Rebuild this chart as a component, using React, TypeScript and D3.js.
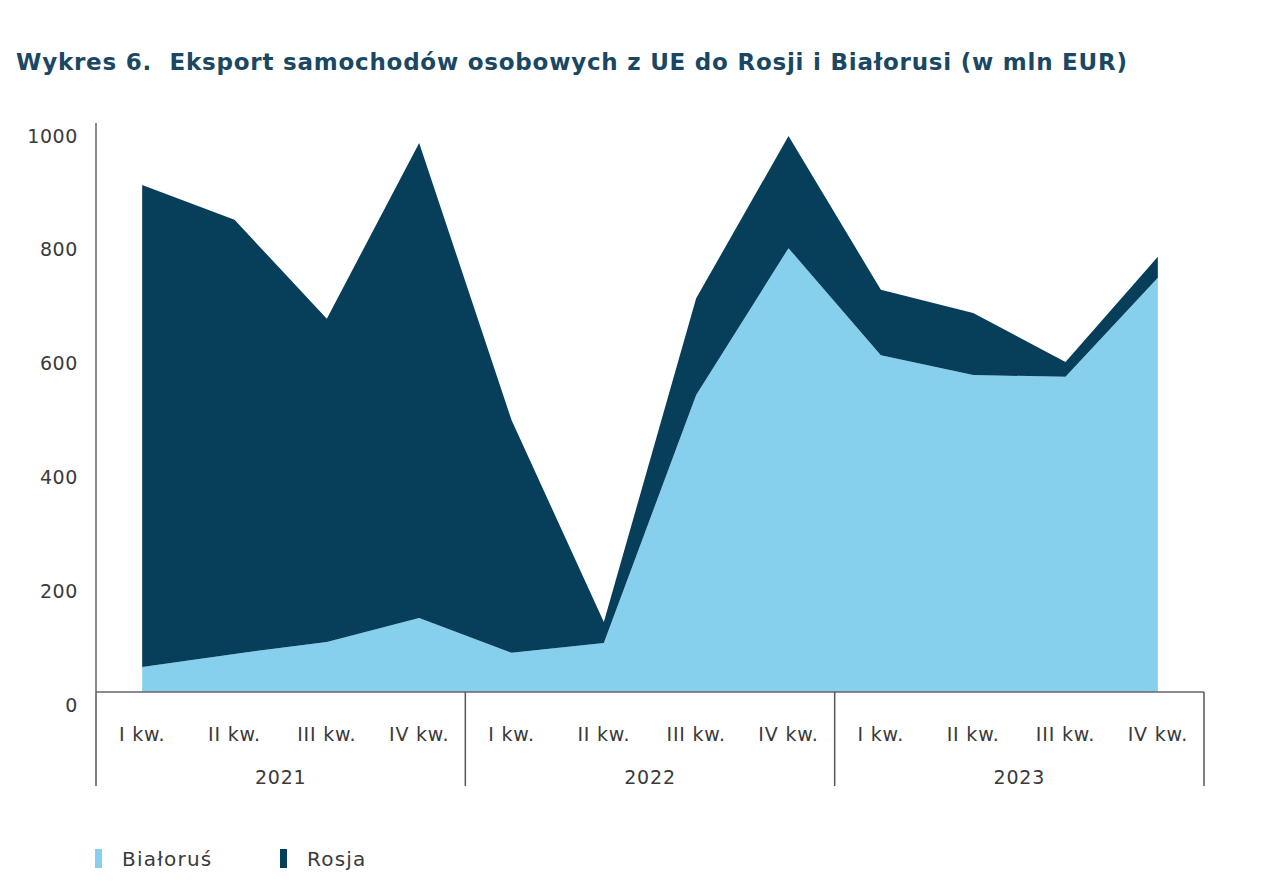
import React, { useEffect, useRef } from 'react';
import * as d3 from 'd3';

const years = ['2021', '2022', '2023'];
const quarters = ['I kw.', 'II kw.', 'III kw.', 'IV kw.'];
const bialorus = [44, 67, 88, 130, 69, 86, 522, 780, 592, 557, 554, 728];
const rosja = [847, 763, 568, 835, 409, 37, 170, 197, 115, 109, 26, 37];
const yTicks = [0, 200, 400, 600, 800, 1000];
const seriesNames = ['Białoruś', 'Rosja'];
const seriesColors = ['#86d0ee', '#073f5a'];

const W = 1280;
const H = 896;
const margin = { left: 96, right: 76, top: 123, bottom: 204 };
const font = '"DejaVu Sans", "Noto Sans", sans-serif';

const App = () => {
  const svgRef = useRef<SVGSVGElement>(null);

  useEffect(() => {
    const svg = d3.select(svgRef.current);
    svg.selectAll('*').remove();

    const chartW = W - margin.left - margin.right;
    const chartH = H - margin.top - margin.bottom;

    const rows = years.flatMap((yr, yi) =>
      quarters.map((q, qi) => {
        const i = yi * 4 + qi;
        return { key: `${yr}-${q}`, q, yr, Białoruś: bialorus[i], Rosja: rosja[i] };
      })
    );

    const x = d3.scaleBand().domain(rows.map(d => d.key)).range([0, chartW]);
    const y = d3.scaleLinear().domain([0, 1000]).range([chartH, 0]);

    const stack = d3.stack<any>().keys(seriesNames);
    const layers = stack(rows);

    const area = d3.area<any>()
      .x(d => x(d.data.key)! + x.bandwidth() / 2)
      .y0(d => y(d[0]))
      .y1(d => y(d[1]));

    svg.append('text')
      .attr('x', 16)
      .attr('y', 70)
      .attr('fill', '#1a4763')
      .attr('font-family', font)
      .attr('font-weight', 700)
      .attr('font-size', 23)
      .attr('textLength', 1111)
      .attr('lengthAdjust', 'spacing')
      .attr('xml:space', 'preserve')
      .text('Wykres 6.  Eksport samochodów osobowych z UE do Rosji i Białorusi (w mln EUR)');

    const g = svg.append('g').attr('transform', `translate(${margin.left},${margin.top})`);

    g.selectAll('path.layer')
      .data(layers)
      .join('path')
      .attr('class', 'layer')
      .attr('fill', (_, i) => seriesColors[i])
      .attr('d', area as any);

    // y axis
    g.append('line')
      .attr('x1', 0).attr('x2', 0)
      .attr('y1', 0).attr('y2', chartH)
      .attr('stroke', '#666').attr('stroke-width', 1.5);

    g.selectAll('text.ytick')
      .data(yTicks)
      .join('text')
      .attr('class', 'ytick')
      .attr('x', -18)
      .attr('y', d => y(d) + 13)
      .attr('dy', '0.35em')
      .attr('text-anchor', 'end')
      .attr('fill', '#3a3a3a')
      .attr('font-family', font)
      .attr('font-size', 19)
      .attr('letter-spacing', 0.6)
      .text(d => d);

    // x axis
    g.append('line')
      .attr('x1', 0).attr('x2', chartW)
      .attr('y1', chartH).attr('y2', chartH)
      .attr('stroke', '#666').attr('stroke-width', 1.5);

    const seps = [0, 4, 8, 12].map(i => (i < 12 ? x(rows[i].key)! : chartW));
    g.selectAll('line.sep')
      .data(seps)
      .join('line')
      .attr('class', 'sep')
      .attr('x1', d => d).attr('x2', d => d)
      .attr('y1', chartH).attr('y2', chartH + 94)
      .attr('stroke', '#555').attr('stroke-width', 1.5);

    g.selectAll('text.q')
      .data(rows)
      .join('text')
      .attr('class', 'q')
      .attr('x', d => x(d.key)! + x.bandwidth() / 2)
      .attr('y', chartH + 42)
      .attr('dy', '0.35em')
      .attr('text-anchor', 'middle')
      .attr('fill', '#3a3a3a')
      .attr('font-family', font)
      .attr('font-size', 19)
      .attr('letter-spacing', 0.8)
      .text(d => d.q);

    g.selectAll('text.yr')
      .data(years)
      .join('text')
      .attr('class', 'yr')
      .attr('x', (_, i) => (seps[i] + seps[i + 1]) / 2)
      .attr('y', chartH + 85)
      .attr('dy', '0.35em')
      .attr('text-anchor', 'middle')
      .attr('fill', '#3a3a3a')
      .attr('font-family', font)
      .attr('font-size', 19)
      .attr('letter-spacing', 0.8)
      .text(d => d);

    // legend
    const legend = svg.append('g').attr('transform', 'translate(95,859)');
    const legendX = [0, 185];
    seriesNames.forEach((name, i) => {
      legend.append('rect')
        .attr('x', legendX[i]).attr('y', -10)
        .attr('width', 7).attr('height', 19)
        .attr('fill', seriesColors[i]);
      legend.append('text')
        .attr('x', legendX[i] + 27).attr('y', 0)
        .attr('dy', '0.35em')
        .attr('fill', '#3a3a3a')
        .attr('font-family', font)
        .attr('font-size', 20)
        .attr('letter-spacing', 1.2)
        .text(name);
    });
  }, []);

  return <svg ref={svgRef} width={W} height={H} style={{ display: 'block', margin: -8 }}></svg>;
};

export default App;
